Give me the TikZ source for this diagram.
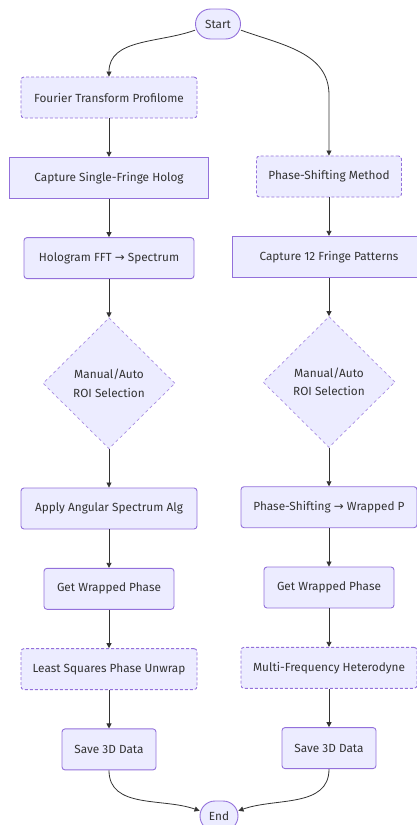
\documentclass[tikz,border=0pt]{standalone}
\usepackage{fontspec}
\setmainfont{Fira Sans}
\newfontfamily\arrowfont{DejaVu Sans}
\usetikzlibrary{positioning,shapes.geometric,arrows.meta}
\definecolor{boxfill}{HTML}{ECECFF}
\definecolor{boxline}{HTML}{9370DB}
\definecolor{ink}{HTML}{333333}
\tikzset{
	box/.style={draw=boxline, fill=boxfill, line width=0.9pt, rounded corners=3pt,
		minimum height=41pt, inner sep=0pt, text=ink, font=\fontsize{11.8}{13}\selectfont},
	sqbox/.style={box, rounded corners=0pt},
	dbox/.style={box, dash pattern=on 3pt off 2pt},
	term/.style={box, rounded corners=15pt, minimum height=30pt},
	choice/.style={diamond, aspect=1, draw=boxline!80, fill=boxfill, line width=0.7pt,
		dash pattern=on 3pt off 3pt, minimum width=132pt, minimum height=131pt, inner sep=0pt,
		align=center, text=ink, font=\fontsize{11.8}{18.5}\selectfont},
	flow/.style={draw=ink, line width=0.8pt, -{Triangle[length=5pt,width=5pt]}}
}
\begin{document}
\begin{tikzpicture}[node distance=38.4pt]
			\useasboundingbox (0,0) rectangle (417pt,-825pt);
			\node(start)	[term, minimum width=45pt] at (218pt,-24pt) {Start};

			\node(fourier)	[dbox, minimum width=176pt] at (109pt,-97.5pt) {Fourier Transform Profilome};
			\node(holog)	[sqbox, minimum width=199pt, below=of fourier] {Capture Single-Fringe Holog};
			\node(fft)		[box, minimum width=170pt, below=of holog] {Hologram FFT {\arrowfont→} Spectrum};
			\node(roiA)		[choice, below=of fft] {Manual/Auto\\ROI Selection};
			\node(angular)	[box, minimum width=176pt, below=of roiA] {Apply Angular Spectrum Alg};
			\node(wrapA)	[box, minimum width=130pt, below=of angular] {Get Wrapped Phase};
			\node(lsq)		[dbox, minimum width=176pt, below=of wrapA] {Least Squares Phase Unwrap};
			\node(saveA)	[box, minimum width=94pt, below=of lsq] {Save 3D Data};

			\node(phase)	[dbox, minimum width=145pt] at (329pt,-176.5pt) {Phase-Shifting Method};
			\node(fringes)	[sqbox, minimum width=194pt, below=of phase] {Capture 12 Fringe Patterns};
			\node(roiB)		[choice, below=of fringes] {Manual/Auto\\ROI Selection};
			\node(pswrap)	[box, minimum width=176pt, below=of roiB] {Phase-Shifting {\arrowfont→} Wrapped P};
			\node(wrapB)	[box, minimum width=130pt, below=of pswrap] {Get Wrapped Phase};
			\node(hetero)	[dbox, minimum width=176pt, below=of wrapB] {Multi-Frequency Heterodyne};
			\node(saveB)	[box, minimum width=94pt, below=of hetero] {Save 3D Data};

			\node(finish)	[term, minimum width=38pt] at (219pt,-816pt) {End};
			\coordinate(bend) at (329pt,-95pt);

			\draw[flow] (start.195) to[out=200,in=90] (fourier.north);
			\draw[flow] (start.-15) to[out=-20,in=90] (bend) -- (phase.north);
			\draw[flow] (fourier) -- (holog);
			\draw[flow] (holog) -- (fft);
			\draw[flow] (fft) -- (roiA);
			\draw[flow] (roiA) -- (angular);
			\draw[flow] (angular) -- (wrapA);
			\draw[flow] (wrapA) -- (lsq);
			\draw[flow] (lsq) -- (saveA);
			\draw[flow] (phase) -- (fringes);
			\draw[flow] (fringes) -- (roiB);
			\draw[flow] (roiB) -- (pswrap);
			\draw[flow] (pswrap) -- (wrapB);
			\draw[flow] (wrapB) -- (hetero);
			\draw[flow] (hetero) -- (saveB);
			\draw[flow] (saveA.south) to[out=-90,in=160] (finish.165);
			\draw[flow] (saveB.south) to[out=-90,in=20] (finish.15);
		\end{tikzpicture}
\end{document}
